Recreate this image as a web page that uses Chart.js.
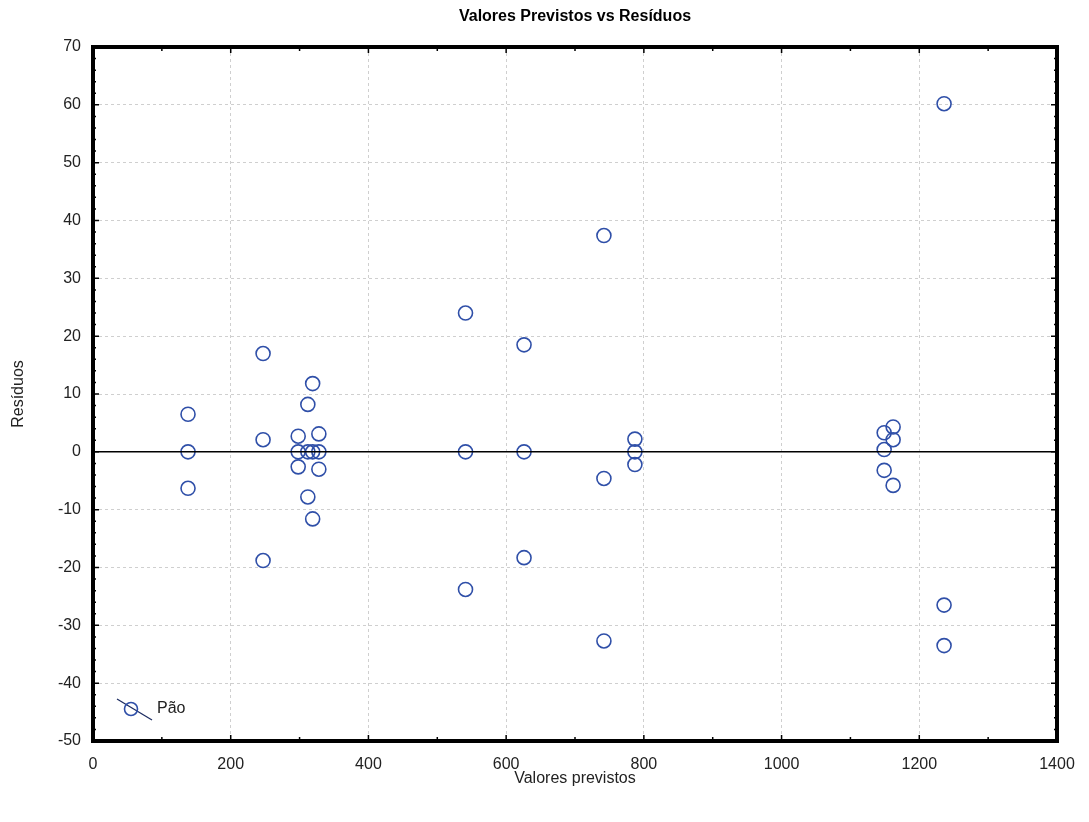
<!DOCTYPE html>
<html>
<head>
<meta charset="utf-8">
<script src="https://cdn.jsdelivr.net/npm/chart.js@4/dist/chart.umd.min.js"></script>
<style>
  html, body { margin: 0; padding: 0; background: #fff; }
  #wrap { width: 1089px; height: 822px; position: relative; }
</style>
</head>
<body>
<div id="wrap"><canvas id="chart" width="1089" height="822"></canvas></div>
<script>
const TITLE = 'Valores Previstos vs Resíduos';
const X_TITLE = 'Valores previstos';
const Y_TITLE = 'Resíduos';
const SERIES_LABEL = 'Pão';

// predicted values and their residuals
const predicted = [
  138, 138, 138,
  247, 247, 247,
  298, 298, 298,
  312, 312, 312,
  319, 319, 319,
  328, 328, 328,
  541, 541, 541,
  626, 626, 626,
  742, 742, 742,
  787, 787, 787,
  1149, 1149, 1149,
  1162, 1162, 1162,
  1236, 1236, 1236,
];
const residuals = [
  6.5, 0, -6.3,
  17, 2.1, -18.8,
  2.7, 0, -2.6,
  8.2, 0, -7.8,
  11.8, 0, -11.6,
  3.1, 0, -3.0,
  24.0, 0, -23.8,
  18.5, 0, -18.3,
  37.4, -4.6, -32.7,
  2.2, 0, -2.2,
  3.3, 0.4, -3.2,
  4.3, 2.1, -5.8,
  60.2, -26.5, -33.5,
];

const X_MIN = 0, X_MAX = 1400, X_STEP = 200, X_MINOR = 100;
const Y_MIN = -50, Y_MAX = 70, Y_STEP = 10, Y_MINOR = 2;

const BLUE = '#2f4fa8';
const FONT = '"Liberation Sans", Arial, sans-serif';

const decor = {
  id: 'decor',
  afterDatasetsDraw(chart) {
    const { ctx, chartArea: a, scales: { x, y } } = chart;
    ctx.save();
    // zero line
    const y0 = y.getPixelForValue(0);
    ctx.strokeStyle = '#000';
    ctx.lineWidth = 1.5;
    ctx.beginPath();
    ctx.moveTo(a.left, y0);
    ctx.lineTo(a.right, y0);
    ctx.stroke();

    // minor and major ticks pointing inward
    ctx.lineWidth = 1.5;
    for (let v = X_MIN; v <= X_MAX; v += X_MINOR) {
      const px = x.getPixelForValue(v);
      const len = v % X_STEP === 0 ? 6 : 4;
      ctx.beginPath();
      ctx.moveTo(px, a.bottom); ctx.lineTo(px, a.bottom - len);
      ctx.moveTo(px, a.top); ctx.lineTo(px, a.top + len);
      ctx.stroke();
    }
    for (let v = Y_MIN; v <= Y_MAX; v += Y_MINOR) {
      const py = y.getPixelForValue(v);
      const len = v % Y_STEP === 0 ? 6 : 3;
      ctx.beginPath();
      ctx.moveTo(a.left, py); ctx.lineTo(a.left + len, py);
      ctx.moveTo(a.right, py); ctx.lineTo(a.right - len, py);
      ctx.stroke();
    }

    // frame
    ctx.lineWidth = 4;
    ctx.strokeRect(a.left, a.top, a.right - a.left, a.bottom - a.top);

    // legend
    const lx = 131, ly = 709;
    ctx.strokeStyle = '#1a2a60';
    ctx.lineWidth = 1.2;
    ctx.beginPath();
    ctx.moveTo(lx - 14, ly - 10);
    ctx.lineTo(lx + 21, ly + 11);
    ctx.stroke();
    ctx.strokeStyle = BLUE;
    ctx.lineWidth = 1.6;
    ctx.beginPath();
    ctx.arc(lx, ly, 6.5, 0, Math.PI * 2);
    ctx.stroke();
    ctx.fillStyle = '#222';
    ctx.font = '16px ' + FONT;
    ctx.textAlign = 'left';
    ctx.textBaseline = 'middle';
    ctx.fillText(SERIES_LABEL, lx + 26, ly);

    // titles
    ctx.font = 'bold 16px "Liberation Sans Narrow", ' + FONT;
    ctx.textAlign = 'center';
    ctx.fillStyle = '#000';
    ctx.fillText(TITLE, (a.left + a.right) / 2, 17);
    ctx.font = '16px ' + FONT;
    ctx.fillStyle = '#222';
    ctx.fillText(X_TITLE, (a.left + a.right) / 2, 779);
    ctx.translate(19, (a.top + a.bottom) / 2);
    ctx.rotate(-Math.PI / 2);
    ctx.fillText(Y_TITLE, 0, 0);
    ctx.restore();
  },
};

const points = predicted.map((v, i) => ({ x: v, y: residuals[i] }));

new Chart(document.getElementById('chart'), {
  type: 'scatter',
  data: {
    datasets: [{
      label: SERIES_LABEL,
      data: points,
      pointStyle: 'circle',
      pointRadius: 7,
      pointBorderWidth: 1.6,
      pointBorderColor: BLUE,
      pointBackgroundColor: 'rgba(0,0,0,0)',
    }],
  },
  options: {
    responsive: false,
    animation: false,
    layout: { padding: { top: 47, right: 32, left: 0, bottom: 0 } },
    plugins: { legend: { display: false }, title: { display: false }, tooltip: { enabled: false } },
    scales: {
      x: {
        type: 'linear',
        min: X_MIN,
        max: X_MAX,
        afterFit: (s) => { s.height = 81; },
        ticks: { stepSize: X_STEP, padding: 14, color: '#222', font: { family: FONT, size: 16 }, callback: (v) => String(v) },
        grid: { color: '#cfcfcf', drawTicks: false, lineWidth: 1 },
        border: { display: false, dash: [3, 3] },
      },
      y: {
        type: 'linear',
        min: Y_MIN,
        max: Y_MAX,
        afterFit: (s) => { s.width = 93; },
        ticks: { stepSize: Y_STEP, padding: 12, color: '#222', font: { family: FONT, size: 16 }, callback: (v) => String(v) },
        grid: { color: '#cfcfcf', drawTicks: false, lineWidth: 1 },
        border: { display: false, dash: [3, 3] },
      },
    },
  },
  plugins: [decor],
});
</script>
</body>
</html>
